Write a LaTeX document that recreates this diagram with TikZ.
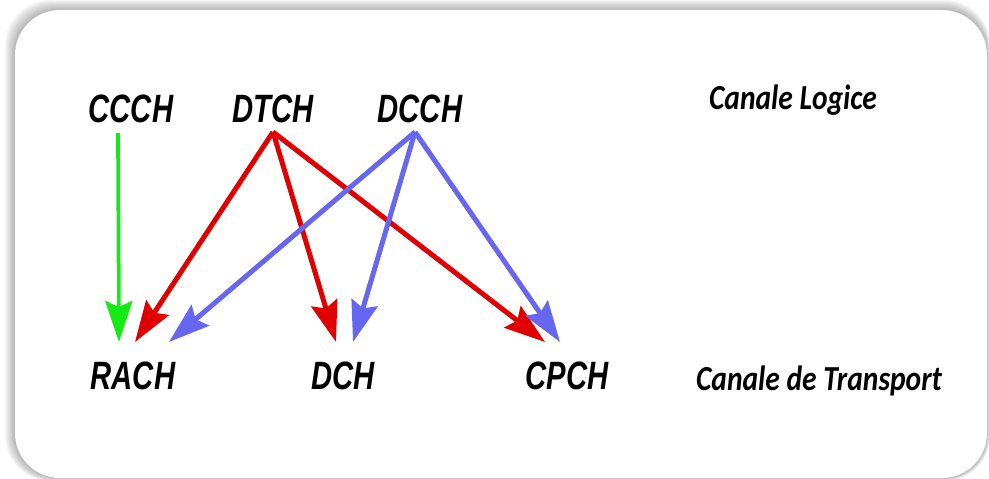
\documentclass[tikz,border=0pt]{standalone}
\usepackage{fontspec}
\newfontfamily\chanfont[FakeStretch=0.74]{Liberation Sans}
\newfontfamily\layerfont[FakeStretch=0.84]{Carlito}
\usetikzlibrary{arrows.meta}
\definecolor{chgreen}{RGB}{20,235,20}
\definecolor{chred}{RGB}{225,0,0}
\definecolor{chblue}{RGB}{102,102,240}

\begin{document}
\begin{tikzpicture}[x=0.02cm,y=-0.02cm,
  chan/.style={font=\chanfont\bfseries\itshape\fontsize{22.5}{26}\selectfont, anchor=base, inner sep=0pt},
  layer/.style={font=\layerfont\bfseries\itshape\fontsize{20}{24}\selectfont, anchor=base, inner sep=0pt},
  map/.style={line width=0.1cm, -{Stealth[length=0.82cm, width=0.54cm, inset=0.12cm]}}]
  \useasboundingbox (0,0) rectangle (989,479);
  % frame with soft shadow
  \foreach \i in {1,...,10}
    \fill[black, opacity=0.03, rounded corners=0.9cm] (15-\i,10-\i) rectangle (987+0.3*\i,478+0.3*\i);
  \fill[white, rounded corners=0.9cm] (15,10) rectangle (987,478);
  % logical channels
  \foreach \n/\x/\t in {ccch/131/CCCH, dtch/273/DTCH, dcch/420/DCCH}
    \node[chan] (\n) at (\x,123) {\t};
  % transport channels
  \foreach \n/\x/\t in {rach/133/RACH, dch/343/DCH, cpch/567/CPCH}
    \node[chan] (\n) at (\x,389) {\t};
  \node[layer] (logic) at (793,110) {Canale Logice};
  \node[layer] (transport) at (819,390) {Canale de Transport};
  % arrow ends
  \coordinate (ccch-o) at (118,133);
  \coordinate (dtch-o) at (273,132);
  \coordinate (dcch-o) at (415,132);
  \foreach \n/\x in {rach-g/119, rach-r/135, rach-b/169, dch-r/336, dch-b/353, cpch-r/545, cpch-b/560}
    \coordinate (\n) at (\x,342);
  \draw[map, chgreen, line width=0.075cm] (ccch-o) -- (rach-g);
  \foreach \e in {rach-r, dch-r, cpch-r}
    \draw[map, chred] (dtch-o) -- (\e);
  \foreach \e in {rach-b, dch-b, cpch-b}
    \draw[map, chblue] (dcch-o) -- (\e);
\end{tikzpicture}
\end{document}
